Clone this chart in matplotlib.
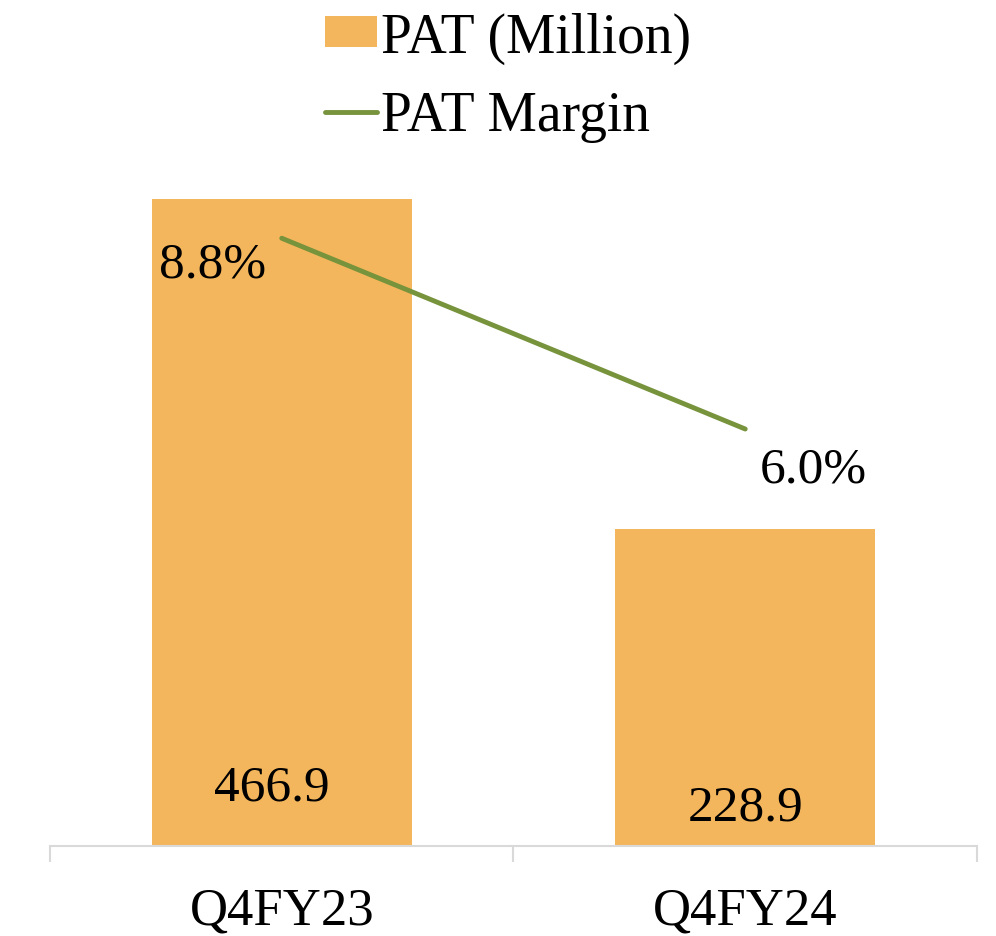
import matplotlib.pyplot as plt
import numpy as np

periods = ["Q4FY23", "Q4FY24"]
pat_million = [466.9, 228.9]
pat_margin = [8.8, 6.0]

bar_color = "#F4B65C"
line_color = "#77933C"

plt.rcParams["font.family"] = ["Liberation Serif", "DejaVu Serif"]

fig = plt.figure(figsize=(9.96, 9.37), dpi=100)
ax = fig.add_axes([0.0502, 0.096, 0.9307, 0.7396])
x = np.arange(len(periods))

bars = ax.bar(x, pat_million, width=0.56, color=bar_color, label="PAT (Million)", zorder=2)
ax.set_xlim(-0.5, 1.5)
ax.set_ylim(0, 500)

# value labels near the bar base
base_off = [(-7, 42), (0, 28)]
for xi, v, off in zip(x, pat_million, base_off):
    ax.annotate(f"{v:.1f}", (xi, 0), xytext=off, textcoords="offset points",
                ha="center", va="center", fontsize=37)

ax2 = ax.twinx()
ln, = ax2.plot(x, pat_margin, color=line_color, lw=3.5, solid_capstyle="round",
               label="PAT Margin", zorder=3)
ax2.set_ylim(-0.12, 10.05)
ax2.axis("off")

pct_off = [(-50, -19), (49, -29)]
for xi, v, off in zip(x, pat_margin, pct_off):
    ax2.annotate(f"{v:.1f}%", (xi, v), xytext=off, textcoords="offset points",
                 ha="center", va="center", fontsize=37)

for s in ["top", "right", "left"]:
    ax.spines[s].set_visible(False)
ax.spines["bottom"].set_color("#D9D9D9")
ax.spines["bottom"].set_linewidth(1.5)
ax.set_yticks([])
ax.set_xticks(x)
ax.set_xticklabels(periods, fontsize=38)
ax.tick_params(axis="x", which="major", length=0, pad=29)
ax.set_xticks([-0.5, 0.5, 1.5], minor=True)
ax.tick_params(axis="x", which="minor", length=11.5, width=1.5, color="#D9D9D9")

fig.legend([bars, ln], ["PAT (Million)", "PAT Margin"], loc="upper center",
           bbox_to_anchor=(0.51, 1.04), frameon=False, fontsize=40,
           handlelength=0.94, handleheight=0.49, handletextpad=0.08, labelspacing=0.47)

fig.savefig("out.png", dpi=100)
